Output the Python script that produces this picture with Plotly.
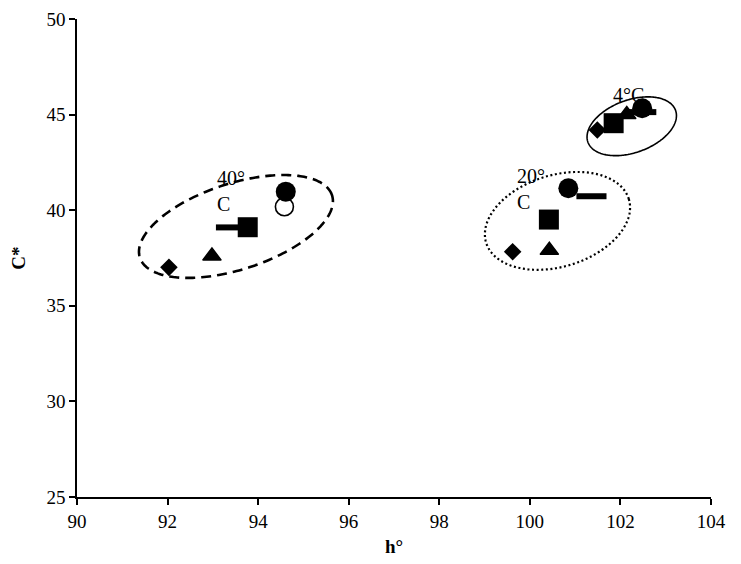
import numpy as np
import plotly.graph_objects as go

# ---- data ----
diamond_x = [92.03, 99.62, 101.49]
diamond_y = [37.01, 37.83, 44.19]
triangle_x = [92.98, 100.43, 102.14]
triangle_y = [37.60, 37.90, 45.00]
square_x = [93.77, 100.42, 101.85]
square_y = [39.11, 39.51, 44.55]
circle_x = [94.61, 100.85, 102.48]
circle_y = [40.97, 41.15, 45.33]
dash_x = [93.40, 101.36, 102.46]
dash_y = [39.10, 40.73, 45.13]
open_circle_x = [94.58, None, None]
open_circle_y = [40.18, None, None]

group_labels = ["40°<br>C", "20°<br>C", "4°C"]
label_x = [93.04, 99.67, 101.79]
label_y = [42.35, 42.45, 46.72]

# ellipse: center x, center y (data), semi axes (px), tilt (deg)
ell_cx = [93.51, 100.61, 102.25]
ell_cy = [39.15, 39.44, 44.39]
ell_a = [101, 74.6, 46.6]
ell_b = [43, 45.8, 26.3]
ell_ang = [18, 17, 20]
ell_dash = ["10px,6px", "2px,2.6px", "solid"]
ell_w = [2.6, 2.2, 1.6]

x_range = [90, 104]
y_range = [25, 50]

# page body has an 8px margin, so the figure is sized/offset accordingly
W, H = 733, 556
ML, MR, MT, MB = 69, 30, 11, 67
pxx = (W - ML - MR) / (x_range[1] - x_range[0])
pxy = (H - MT - MB) / (y_range[1] - y_range[0])

FONT = "Liberation Serif, Times New Roman, serif"

fig = go.Figure()

def add(x, y, symbol, size, name, lw=0, fill="black"):
    fig.add_trace(go.Scatter(
        x=x, y=y, mode="markers", name=name, showlegend=False,
        marker=dict(symbol=symbol, size=size, color=fill,
                    line=dict(color="black", width=lw))))

add(dash_x, dash_y, "line-ew", 21.5, "dash", lw=6)
add(open_circle_x, open_circle_y, "circle-open", 18, "open circle", lw=1.6, fill="black")
add(diamond_x, diamond_y, "diamond", 13.5, "diamond")
add(triangle_x, triangle_y, "triangle-up", 16, "triangle", lw=1.5)
add(square_x, square_y, "square", 20, "square")
add(circle_x, circle_y, "circle", 20, "circle")

t = np.linspace(0, 2 * np.pi, 241)
for cx, cy, a, b, ang, dsh, w in zip(ell_cx, ell_cy, ell_a, ell_b, ell_ang, ell_dash, ell_w):
    th = np.deg2rad(ang)
    dx = a * np.cos(t) * np.cos(th) - b * np.sin(t) * np.sin(th)
    dy = a * np.cos(t) * np.sin(th) + b * np.sin(t) * np.cos(th)
    xs = cx + dx / pxx
    ys = cy + dy / pxy
    path = "M " + " L ".join(f"{x:.4f},{y:.4f}" for x, y in zip(xs, ys)) + " Z"
    fig.add_shape(type="path", path=path, xref="x", yref="y",
                  line=dict(color="black", width=w, dash=dsh), layer="above")

for txt, x, y in zip(group_labels, label_x, label_y):
    fig.add_annotation(x=x, y=y, xref="x", yref="y", text=txt, showarrow=False,
                       xanchor="left", yanchor="top", align="left",
                       font=dict(family=FONT, size=20, color="#000"))

axis_common = dict(showgrid=False, zeroline=False, showline=True, linecolor="black",
                   linewidth=1.5, ticks="outside", ticklen=6, tickwidth=1.5,
                   tickcolor="black", automargin=False,
                   tickfont=dict(family=FONT, size=19, color="#000"))

fig.update_xaxes(range=x_range, dtick=2, tick0=90,
                 title=dict(text="<b>h°</b>", font=dict(family=FONT, size=19, color="#000"), standoff=9),
                 **axis_common)
fig.update_yaxes(range=y_range, dtick=5, tick0=25,
                 title=dict(text="<b>C*</b>", font=dict(family=FONT, size=19, color="#000"), standoff=18),
                 **axis_common)

fig.update_layout(width=W, height=H, margin=dict(l=ML, r=MR, t=MT, b=MB, autoexpand=False),
                  plot_bgcolor="white", paper_bgcolor="white")

fig.write_html("out.html")
